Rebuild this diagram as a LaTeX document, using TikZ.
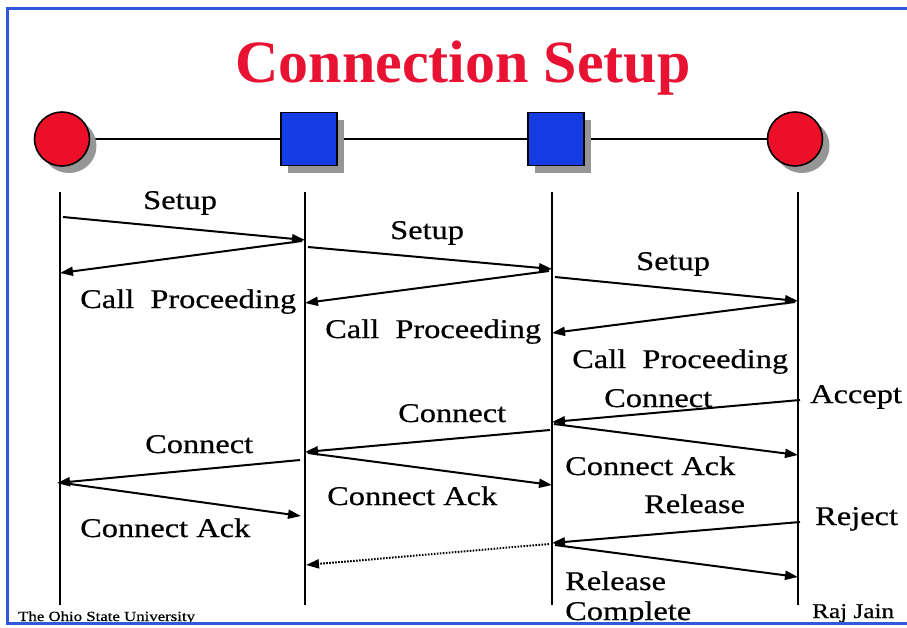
\documentclass[tikz,border=0pt]{standalone}
\usepackage{fontspec}
\setmainfont{Liberation Serif}
\newfontfamily\bodyfont[FakeStretch=1.2,FakeBold=0.6]{Liberation Serif}
\usetikzlibrary{arrows.meta,shapes.geometric,shadows,backgrounds}

\definecolor{framecol}{RGB}{45,90,220}
\definecolor{titlered}{RGB}{232,18,50}
\definecolor{endred}{RGB}{235,16,40}
\definecolor{switchblue}{RGB}{20,62,228}
\definecolor{shadowgray}{RGB}{150,150,150}

\tikzset{
  shadowed/.style={drop shadow={shadow xshift=7pt, shadow yshift=-7pt, fill=shadowgray, opacity=1}},
  endpt/.style={ellipse, draw, line width=1.6pt, fill=endred, minimum width=55pt,
    minimum height=54pt, inner sep=0pt, shadowed},
  switchbox/.style={rectangle, draw, line width=1.6pt, fill=switchblue, minimum width=56pt,
    minimum height=53pt, inner sep=0pt, shadowed},
  lifeline/.style={line width=2.8pt},
  msg/.style={line width=2pt, -{Triangle[length=13pt,width=9pt]}},
  dotmsg/.style={line width=2pt, dash pattern=on 1.6pt off 1.4pt, -{Triangle[length=13pt,width=9pt]}},
  lbl/.style={font=\bodyfont\fontsize{27}{30}\selectfont, inner sep=0pt, anchor=base west},
  foot/.style={font=\bodyfont\fontsize{14}{16}\selectfont, inner sep=0pt, anchor=base west},
}

\begin{document}
\begin{tikzpicture}[x=1pt, y=-1pt]
\useasboundingbox (0,0) rectangle (907,627);

% title
\node[font=\bfseries\fontsize{60}{64}\selectfont, text=titlered, inner sep=0pt, anchor=base]
  (title) at (463,82) {Connection Setup};

% end systems and switches
\node[endpt]    (n1) at (62,139)  {};
\node[switchbox](n2) at (309,139) {};
\node[switchbox](n3) at (556,139) {};
\node[endpt]    (n4) at (795,139) {};

\begin{scope}[on background layer]
  \fill[white] (0,0) rectangle (907,627);
  \draw[line width=2.4pt] (n1.center) -- (n2.center) -- (n3.center) -- (n4.center);
\end{scope}

% lifelines
\foreach \i/\x in {1/60, 2/305, 3/552, 4/798} {
  \coordinate (t\i) at (\x,192);
  \coordinate (b\i) at (\x,605);
  \draw[lifeline] (t\i) -- (b\i);
}

% message end points
\coordinate (s1a) at (63,217);   \coordinate (s1b) at (305,240);
\coordinate (p1a) at (302,241);  \coordinate (p1b) at (60,273);
\coordinate (s2a) at (308,247);  \coordinate (s2b) at (552,269);
\coordinate (p2a) at (549,271);  \coordinate (p2b) at (305,303);
\coordinate (s3a) at (555,277);  \coordinate (s3b) at (798,301);
\coordinate (p3a) at (795,302);  \coordinate (p3b) at (552,333);
\coordinate (c3a) at (800,400);  \coordinate (c3b) at (552,422);
\coordinate (k3a) at (554,424);  \coordinate (k3b) at (798,455);
\coordinate (c2a) at (550,430);  \coordinate (c2b) at (305,452);
\coordinate (c1a) at (300,460);  \coordinate (c1b) at (57,483);
\coordinate (k1a) at (63,483);   \coordinate (k1b) at (301,516);
\coordinate (k2a) at (308,453);  \coordinate (k2b) at (552,485);
\coordinate (r1a) at (800,522);  \coordinate (r1b) at (552,543);
\coordinate (dta) at (549,544);  \coordinate (dtb) at (306,565);
\coordinate (rca) at (555,545);  \coordinate (rcb) at (798,577);

% messages
\draw[msg] (s1a) -- (s1b);
\draw[msg] (p1a) -- (p1b);
\draw[msg] (s2a) -- (s2b);
\draw[msg] (p2a) -- (p2b);
\draw[msg] (s3a) -- (s3b);
\draw[msg] (p3a) -- (p3b);
\draw[msg] (c3a) -- (c3b);
\draw[msg] (k3a) -- (k3b);
\draw[msg] (c2a) -- (c2b);
\draw[msg] (c1a) -- (c1b);
\draw[msg] (k1a) -- (k1b);
\draw[msg] (k2a) -- (k2b);
\draw[msg] (r1a) -- (r1b);
\draw[dotmsg] (dta) -- (dtb);
\draw[msg] (rca) -- (rcb);

% message labels
\node[lbl] (ls1) at (143,209) {Setup};
\node[lbl] (lp1) at (80,308)  {Call~ Proceeding};
\node[lbl] (ls2) at (390,239) {Setup};
\node[lbl] (lp2) at (325,338) {Call~ Proceeding};
\node[lbl] (ls3) at (636,270) {Setup};
\node[lbl] (lp3) at (572,368) {Call~ Proceeding};
\node[lbl] (lc3) at (604,407) {Connect};
\node[lbl] (lac) at (810,403) {Accept};
\node[lbl] (lc2) at (398,422) {Connect};
\node[lbl] (lc1) at (145,453) {Connect};
\node[lbl] (lk3) at (565,475) {Connect Ack};
\node[lbl] (lk2) at (327,505) {Connect Ack};
\node[lbl] (lk1) at (80,537)  {Connect Ack};
\node[lbl] (lr1) at (644,513) {Release};
\node[lbl] (lrj) at (815,525) {Reject};
\node[lbl] (lr2) at (565,590) {Release};
\node[lbl] (lr3) at (565,620) {Complete};

% footer
\node[foot] (osu) at (18,621) {The Ohio State University};
\node[foot, font=\bodyfont\fontsize{21}{24}\selectfont] (raj) at (812,618) {Raj Jain};

% slide frame
\fill[white] (0,624) rectangle (907,627);
\draw[framecol, line width=3pt] (907,8) -- (7,8) -- (7,623) -- (907,623);
\end{tikzpicture}
\end{document}
